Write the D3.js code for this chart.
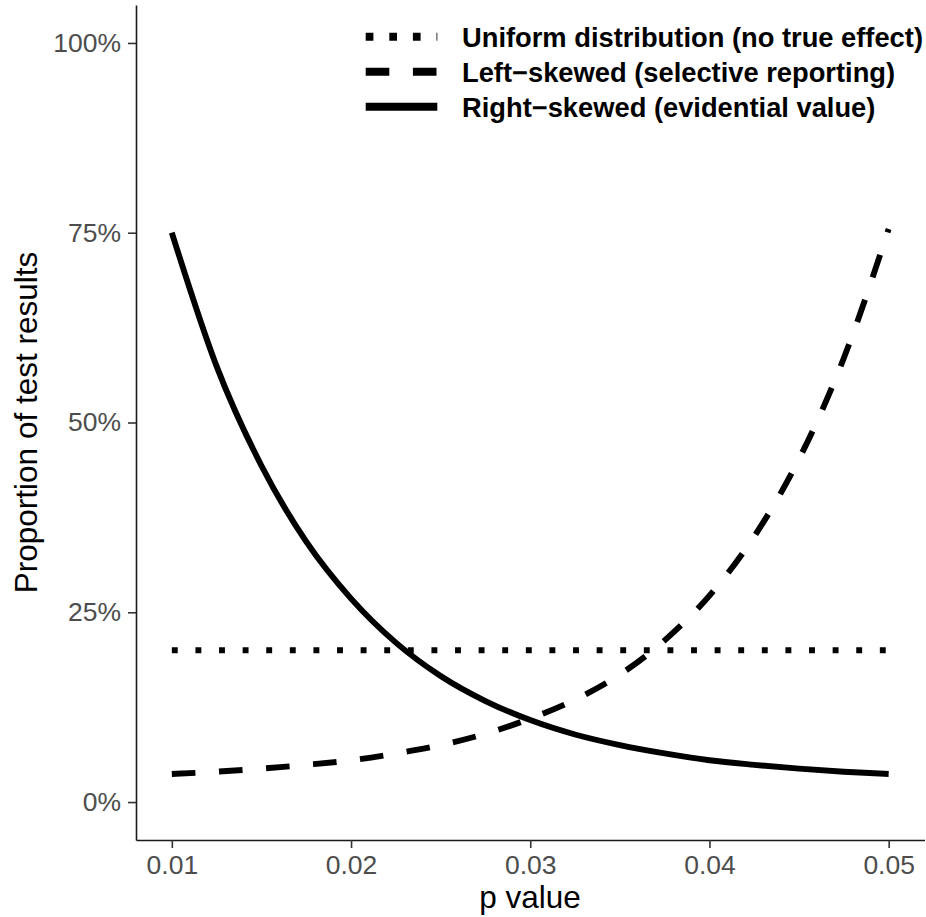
<!DOCTYPE html>
<html>
<head>
<meta charset="utf-8">
<script src="https://cdn.jsdelivr.net/npm/d3@7"></script>
<style>
  body { margin: 0; background: #fff; }
  text { font-family: "Liberation Sans", Arial, Helvetica, sans-serif; }
</style>
</head>
<body>
<svg width="926" height="917"></svg>
<script>
// p values along the x axis
var pValues = [0.01, 0.0125, 0.015, 0.0175, 0.02, 0.0225, 0.025, 0.0275, 0.03,
  0.0325, 0.035, 0.0375, 0.04, 0.0425, 0.045, 0.0475, 0.05];

// proportions
var uniform = [0.2, 0.2, 0.2, 0.2, 0.2, 0.2, 0.2, 0.2, 0.2,
  0.2, 0.2, 0.2, 0.2, 0.2, 0.2, 0.2, 0.2];
var leftSkewed = [0.037, 0.040, 0.044, 0.049, 0.055, 0.064, 0.075, 0.090, 0.110,
  0.135, 0.168, 0.213, 0.272, 0.350, 0.452, 0.585, 0.755];
var rightSkewed = [0.750, 0.574, 0.443, 0.343, 0.268, 0.210, 0.166, 0.133, 0.108,
  0.089, 0.075, 0.064, 0.055, 0.049, 0.044, 0.040, 0.037];

var xTicks = [0.01, 0.02, 0.03, 0.04, 0.05];
var yTicks = [0, 0.25, 0.5, 0.75, 1];
var legendLabels = [
  'Uniform distribution (no true effect)',
  'Left\u2212skewed (selective reporting)',
  'Right\u2212skewed (evidential value)'
];

var svg = d3.select('svg');

var x = d3.scaleLinear().domain([0.008, 0.052]).range([136, 924.5]);
var y = d3.scaleLinear().domain([-0.05, 1.05]).range([840, 5]);

var styles = [
  { dash: '5.9,17.7', legendDash: '7.7,15.9' },
  { dash: '23.6,23.6', legendDash: '23.6,23.6' },
  { dash: null, legendDash: null }
];
var series = [uniform, leftSkewed, rightSkewed];

// axes
var xAxis = svg.append('g')
  .attr('transform', 'translate(0,840)')
  .call(d3.axisBottom(x).tickValues(xTicks).tickSize(8).tickSizeOuter(0)
    .tickPadding(7).tickFormat(d3.format('.2f')));

var yAxis = svg.append('g')
  .attr('transform', 'translate(136,0)')
  .call(d3.axisLeft(y).tickValues(yTicks).tickSize(8).tickSizeOuter(0)
    .tickPadding(7).tickFormat(d3.format('.0%')));

[xAxis, yAxis].forEach(function (g) {
  g.select('.domain').attr('stroke', '#1a1a1a').attr('stroke-width', 1.6);
  g.selectAll('.tick line').attr('stroke', '#333').attr('stroke-width', 1.6);
  g.selectAll('.tick text')
    .attr('fill', '#4d4d4d')
    .style('font-size', '26.5px');
});

// axis titles
svg.append('text')
  .attr('x', 530)
  .attr('y', 908)
  .attr('text-anchor', 'middle')
  .style('font-size', '31.5px')
  .text('p value');

svg.append('text')
  .attr('transform', 'translate(37,422.5) rotate(-90)')
  .attr('text-anchor', 'middle')
  .style('font-size', '31.5px')
  .text('Proportion of test results');

// lines
var line = d3.line()
  .x(function (d, i) { return x(pValues[i]); })
  .y(function (d) { return y(d); })
  .curve(d3.curveMonotoneX);

series.forEach(function (s, i) {
  svg.append('path')
    .datum(s)
    .attr('fill', 'none')
    .attr('stroke', '#000')
    .attr('stroke-width', 5.9)
    .attr('stroke-linecap', 'butt')
    .attr('stroke-dasharray', styles[i].dash)
    .attr('d', line);
});

// legend
var legend = svg.append('g');
legendLabels.forEach(function (lab, i) {
  var cy = 36.7 + i * 35;
  legend.append('line')
    .attr('x1', 365.7).attr('x2', 437.3)
    .attr('y1', cy).attr('y2', cy)
    .attr('stroke', '#000')
    .attr('stroke-width', 8)
    .attr('stroke-dasharray', styles[i].legendDash);
  legend.append('text')
    .attr('x', 462)
    .attr('y', cy + 10)
    .style('font-size', '27.3px')
    .style('font-weight', 'bold')
    .text(lab);
});
</script>
</body>
</html>
